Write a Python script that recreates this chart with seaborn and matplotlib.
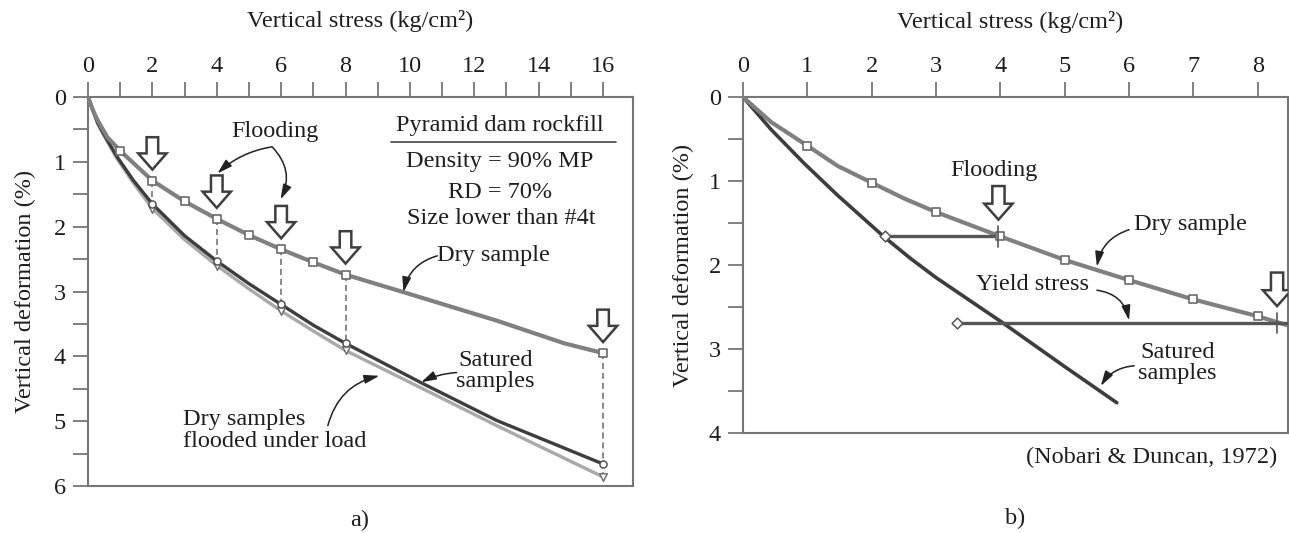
import numpy as np
import pandas as pd
import matplotlib
matplotlib.use("Agg")
import matplotlib.pyplot as plt
from matplotlib.patches import FancyArrow
import seaborn as sns

# ---------------- data ----------------
# Panel a) - Pyramid dam rockfill
a_dry_curve_x = [0, 0.15, 0.3, 0.6, 1, 2, 3, 4, 5, 6, 7, 8, 9.8, 12.7, 14.8, 16]
a_dry_curve_y = [0, 0.20, 0.36, 0.62, 0.83, 1.29, 1.61, 1.88, 2.13, 2.35, 2.55, 2.74, 3.01, 3.45, 3.80, 3.95]
a_sat_curve_x = [0, 0.3, 0.5, 0.9, 1.4, 2, 3, 4, 5, 6, 7, 8, 10.4, 12.7, 16]
a_sat_curve_y = [0, 0.40, 0.58, 0.92, 1.28, 1.65, 2.14, 2.53, 2.88, 3.20, 3.52, 3.80, 4.42, 4.99, 5.66]
a_fld_curve_x = [0, 0.3, 0.5, 0.9, 1.4, 2, 3, 4, 5, 6, 7, 8, 10.4, 12.7, 16]
a_fld_curve_y = [0, 0.41, 0.60, 0.95, 1.32, 1.72, 2.20, 2.60, 2.96, 3.30, 3.61, 3.91, 4.50, 5.07, 5.86]

a_dry_pts_x = [1, 2, 3, 4, 5, 6, 7, 8, 16]
a_dry_pts_y = [0.83, 1.29, 1.61, 1.88, 2.13, 2.35, 2.55, 2.74, 3.95]
a_flood_x = [2, 4, 6, 8, 16]
a_sat_pts_y = [1.65, 2.53, 3.20, 3.80, 5.66]
a_fld_pts_y = [1.72, 2.60, 3.30, 3.91, 5.86]
a_flood_dry_y = [1.29, 1.88, 2.35, 2.74, 3.95]

a_xticks = list(range(0, 17))
a_xticklabels = [str(v) if v % 2 == 0 else "" for v in a_xticks]
a_yticks = [i * 0.5 for i in range(13)]
a_yticklabels = [str(int(v)) if v == int(v) else "" for v in a_yticks]

# Panel b) - Nobari & Duncan
b_dry_curve_x = [0, 0.44, 1, 1.47, 2, 2.51, 3, 4, 5, 6, 7, 8, 8.47]
b_dry_curve_y = [0, 0.30, 0.58, 0.82, 1.02, 1.21, 1.37, 1.66, 1.94, 2.18, 2.41, 2.61, 2.72]
b_dry_pts_x = [1, 2, 3, 4, 5, 6, 7, 8]
b_dry_pts_y = [0.58, 1.02, 1.37, 1.66, 1.94, 2.18, 2.41, 2.61]
b_sat_curve_x = [0, 0.44, 0.95, 1.47, 2.2, 2.6, 3.0, 4.04, 5.0, 5.81]
b_sat_curve_y = [0, 0.39, 0.79, 1.17, 1.67, 1.92, 2.15, 2.69, 3.21, 3.64]
b_flood_line_x = [2.2, 3.97]
b_flood_line_y = [1.66, 1.66]
b_yield_line_x = [3.33, 8.6]
b_yield_line_y = [2.69, 2.69]
b_flood_x = [3.97, 8.3]
b_flood_y = [1.66, 2.69]

b_xticks = list(range(0, 9))
b_yticks = [i * 0.5 for i in range(9)]
b_yticklabels = [str(int(v)) if v == int(v) else "" for v in b_yticks]

# ---------------- styling ----------------
sns.set_theme(style="white")
plt.rcParams["font.family"] = ["Liberation Serif", "DejaVu Serif"]

TXT = "#1e1e1e"
SPINE = "#767676"
DRY = "#808080"
SAT = "#3d3d3d"
FLD = "#a9a9a9"
FS = 17.5

fig = plt.figure(figsize=(12.89, 5.33), dpi=100)
W, H = 1289, 533
axA = fig.add_axes([88 / W, 1 - 486 / H, (633 - 88) / W, (486 - 97) / H])
axB = fig.add_axes([743 / W, 1 - 433 / H, (1288 - 743) / W, (433 - 97) / H])


def style_axes(ax, xlim, ylim, xticks, xlabels, yticks, ylabels):
    ax.set_xlim(*xlim)
    ax.set_ylim(*ylim)
    ax.xaxis.tick_top()
    ax.xaxis.set_label_position("top")
    ax.set_xticks(xticks)
    ax.set_xticklabels(xlabels)
    ax.set_yticks(yticks)
    ax.set_yticklabels(ylabels)
    ax.tick_params(axis="x", which="major", direction="out", length=11, width=1.3,
                   color=SPINE, pad=3.5, labelsize=FS, labelcolor=TXT, top=True, bottom=False)
    ax.tick_params(axis="y", which="major", direction="out", length=11, width=1.3,
                   color=SPINE, pad=5, labelsize=FS, labelcolor=TXT, left=True)
    for s in ax.spines.values():
        s.set_color(SPINE)
        s.set_linewidth(1.5)
    ax.set_facecolor("white")


def hollow_arrow(ax, x, y_tip, length, shaft_w, head_w, head_len):
    arr = FancyArrow(x, y_tip - length, 0, length, width=shaft_w, head_width=head_w,
                     head_length=head_len, length_includes_head=True,
                     facecolor="white", edgecolor="#3e3e3e", linewidth=1.8, zorder=6)
    ax.add_patch(arr)


def note_arrow(ax, start, end, rad):
    ax.annotate("", xy=end, xytext=start,
                arrowprops=dict(arrowstyle="-|>,head_length=0.75,head_width=0.22",
                                color="#222222", lw=1.1,
                                connectionstyle=f"arc3,rad={rad}",
                                shrinkA=0, shrinkB=0), zorder=7)


# ---------------- panel a ----------------
style_axes(axA, (0, 16.93), (6, 0), a_xticks, a_xticklabels, a_yticks, a_yticklabels)

sns.lineplot(x=a_fld_curve_x, y=a_fld_curve_y, ax=axA, color=FLD, lw=2.4,
             sort=False, estimator=None, zorder=2)
sns.lineplot(x=a_sat_curve_x, y=a_sat_curve_y, ax=axA, color=SAT, lw=2.4,
             sort=False, estimator=None, zorder=3)
sns.lineplot(x=a_dry_curve_x, y=a_dry_curve_y, ax=axA, color=DRY, lw=3.0,
             sort=False, estimator=None, zorder=3)

for xv, y0, y1 in zip(a_flood_x, a_flood_dry_y, a_fld_pts_y):
    axA.plot([xv, xv], [y0, y1], color="#6a6a6a", lw=1.1, ls=(0, (4, 2.5)), zorder=2.5)

sns.scatterplot(x=a_flood_x, y=a_fld_pts_y, ax=axA, marker="v", s=30,
                facecolor="white", edgecolor="#707070", linewidth=1.1, zorder=4)
sns.scatterplot(x=a_flood_x, y=a_sat_pts_y, ax=axA, marker="o", s=26,
                facecolor="white", edgecolor="#555555", linewidth=1.1, zorder=5)
sns.scatterplot(x=a_dry_pts_x, y=a_dry_pts_y, ax=axA, marker="s", s=36,
                facecolor="white", edgecolor="#6a6a6a", linewidth=1.2, zorder=5)

for xv, yv in zip(a_flood_x, a_flood_dry_y):
    hollow_arrow(axA, xv, yv - 0.17, 0.50, 0.36, 0.88, 0.25)

axA.text(5.8, 0.53, "Flooding", fontsize=FS, color=TXT, ha="center", va="center")
note_arrow(axA, (5.7, 0.77), (4.02, 1.18), 0.15)
note_arrow(axA, (5.72, 0.77), (5.98, 1.58), -0.35)

axA.text(12.8, 0.44, "Pyramid dam rockfill", fontsize=FS, color=TXT, ha="center", va="center")
axA.plot([9.4, 16.4], [0.70, 0.70], color="#444444", lw=1.2)
axA.text(12.8, 1.00, "Density = 90% MP", fontsize=FS, color=TXT, ha="center", va="center")
axA.text(12.8, 1.47, "RD = 70%", fontsize=FS, color=TXT, ha="center", va="center")
axA.text(12.85, 1.87, "Size lower than #4t", fontsize=FS, color=TXT, ha="center", va="center")

axA.text(12.6, 2.45, "Dry sample", fontsize=FS, color=TXT, ha="center", va="center")
note_arrow(axA, (10.85, 2.45), (9.8, 3.01), 0.3)
axA.text(12.65, 4.22, "Satured\nsamples", fontsize=FS, color=TXT, ha="center", va="center",
         linespacing=1.0)
note_arrow(axA, (11.45, 4.25), (10.35, 4.40), 0.1)
axA.text(2.95, 5.15, "Dry samples\nflooded under load", fontsize=FS, color=TXT,
         ha="left", va="center", linespacing=1.05)
note_arrow(axA, (7.45, 5.07), (9.05, 4.30), -0.3)

axA.set_xlabel("Vertical stress (kg/cm²)", fontsize=FS, color=TXT)
axA.xaxis.set_label_coords(0.5, 1.18)
axA.set_ylabel("Vertical deformation (%)", fontsize=FS, color=TXT)
axA.yaxis.set_label_coords(-0.095, 0.5)

# ---------------- panel b ----------------
style_axes(axB, (0, 8.47), (4, 0), b_xticks, [str(v) for v in b_xticks], b_yticks, b_yticklabels)

sns.lineplot(x=b_sat_curve_x, y=b_sat_curve_y, ax=axB, color=SAT, lw=2.6,
             sort=False, estimator=None, zorder=3)
sns.lineplot(x=b_dry_curve_x, y=b_dry_curve_y, ax=axB, color=DRY, lw=3.0,
             sort=False, estimator=None, zorder=3)
sns.lineplot(x=b_flood_line_x, y=b_flood_line_y, ax=axB, color="#555555", lw=2.4,
             sort=False, estimator=None, zorder=3)
sns.lineplot(x=b_yield_line_x, y=b_yield_line_y, ax=axB, color="#555555", lw=2.4,
             sort=False, estimator=None, zorder=3)

sns.scatterplot(x=b_dry_pts_x, y=b_dry_pts_y, ax=axB, marker="s", s=36,
                facecolor="white", edgecolor="#6a6a6a", linewidth=1.2, zorder=5)
sns.scatterplot(x=[b_flood_line_x[0], b_yield_line_x[0]], y=[b_flood_line_y[0], b_yield_line_y[0]],
                ax=axB, marker="D", s=30, facecolor="white", edgecolor="#555555",
                linewidth=1.1, zorder=5)
for xv, yv in zip(b_flood_x, b_flood_y):
    axB.plot([xv, xv], [yv - 0.12, yv + 0.12], color="#555555", lw=1.2, zorder=5)
    hollow_arrow(axB, xv, yv - 0.2, 0.40, 0.19, 0.44, 0.19)

axB.text(3.9, 0.87, "Flooding", fontsize=FS, color=TXT, ha="center", va="center")
axB.text(6.95, 1.52, "Dry sample", fontsize=FS, color=TXT, ha="center", va="center")
note_arrow(axB, (6.0, 1.58), (5.5, 2.02), 0.3)
axB.text(4.5, 2.23, "Yield stress", fontsize=FS, color=TXT, ha="center", va="center")
note_arrow(axB, (5.5, 2.30), (6.0, 2.66), -0.35)
axB.text(6.75, 3.17, "Satured\nsamples", fontsize=FS, color=TXT, ha="center", va="center",
         linespacing=1.0)
note_arrow(axB, (6.08, 3.2), (5.56, 3.44), 0.25)
axB.text(8.3, 4.29, "(Nobari & Duncan, 1972)", fontsize=FS, color=TXT, ha="right",
         va="center", clip_on=False)

axB.set_xlabel("Vertical stress (kg/cm²)", fontsize=FS, color=TXT)
axB.xaxis.set_label_coords(0.49, 1.205)
axB.set_ylabel("Vertical deformation (%)", fontsize=FS, color=TXT)
axB.yaxis.set_label_coords(-0.09, 0.5)

for ax in (axA, axB):
    leg = ax.get_legend()
    if leg is not None:
        leg.remove()

fig.text(360 / W, 1 - 520 / H, "a)", fontsize=FS, color=TXT, ha="center", va="center")
fig.text(1015 / W, 1 - 518 / H, "b)", fontsize=FS, color=TXT, ha="center", va="center")

fig.savefig("out.png", dpi=100, facecolor="white")
